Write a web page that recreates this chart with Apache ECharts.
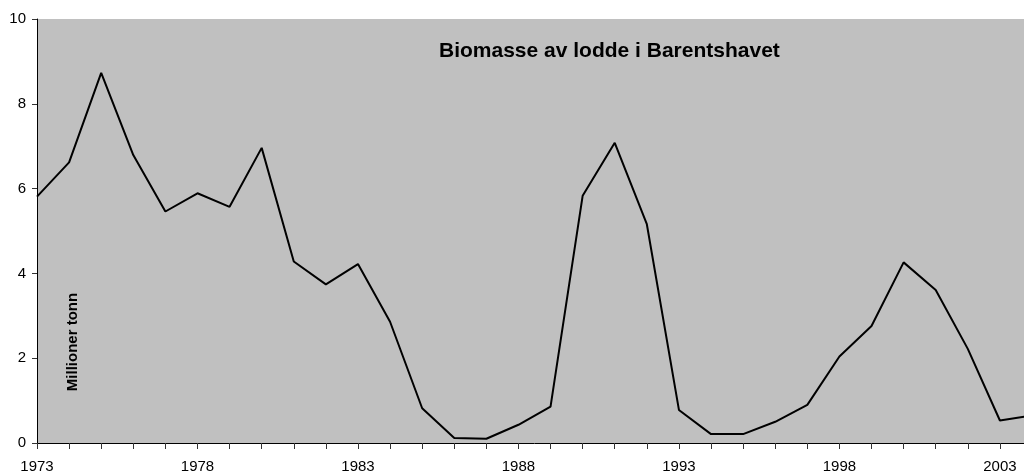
<!DOCTYPE html>
<html>
<head>
<meta charset="utf-8">
<script src="https://cdn.jsdelivr.net/npm/echarts@6/dist/echarts.min.js"></script>
<style>
  html, body { margin: 0; padding: 0; background: #fff; overflow: hidden; }
  #chart { width: 1032px; height: 475px; }
</style>
</head>
<body>
<div id="chart"></div>
<script>
// År (kategorier) og biomasse (millioner tonn)
const years = [];
for (let y = 1973; y <= 2004; y++) years.push(String(y));

const biomasse = [
  5.81, 6.62, 8.73, 6.79, 5.46, 5.89, 5.57, 6.96, 4.28, 3.74,
  4.22, 2.86, 0.82, 0.12, 0.10, 0.43, 0.86, 5.83, 7.08, 5.16,
  0.78, 0.21, 0.21, 0.50, 0.90, 2.04, 2.76, 4.26, 3.61, 2.22,
  0.53, 0.65
];

const yTicks = { min: 0, max: 10, interval: 2 };

const myChart = echarts.init(document.getElementById("chart"), null, { renderer: "canvas" });

const option = {
  animation: false,
  textStyle: { fontFamily: "Liberation Sans, Arial, sans-serif" },
  title: {
    text: "Biomasse av lodde i Barentshavet",
    left: 434,
    top: 36,
    textStyle: { fontSize: 21, fontWeight: "bold", color: "#000" },
  },
  grid: {
    left: 37,
    right: 0,
    top: 19,
    bottom: 32,
    show: true,
    backgroundColor: "#c0c0c0",
    borderWidth: 0,
  },
  xAxis: {
    type: "category",
    data: years,
    boundaryGap: false,
    axisLine: { lineStyle: { color: "#000", width: 1 } },
    axisTick: { show: true, length: 6, interval: 0, lineStyle: { color: "#333" } },
    axisLabel: {
      interval: 4,
      color: "#000",
      fontSize: 15,
      margin: 16,
    },
    splitLine: { show: false },
  },
  yAxis: {
    type: "value",
    min: yTicks.min,
    max: yTicks.max,
    interval: yTicks.interval,
    axisLine: { show: true, lineStyle: { color: "#000", width: 1 } },
    axisTick: { show: true, length: 5, lineStyle: { color: "#333" } },
    axisLabel: { color: "#000", fontSize: 15, margin: 11 },
    splitLine: { show: false },
  },
  graphic: [
    {
      type: "text",
      x: 73,
      y: 342,
      rotation: Math.PI / 2,
      style: {
        text: "Millioner tonn",
        fill: "#000",
        font: "bold 15px 'Liberation Sans', Arial, sans-serif",
        textAlign: "center",
        textVerticalAlign: "middle",
      },
    },
  ],
  series: [
    {
      name: "Biomasse",
      type: "line",
      data: biomasse,
      showSymbol: false,
      symbol: "none",
      lineStyle: { color: "#000", width: 2 },
    },
  ],
};

myChart.setOption(option);
</script>
</body>
</html>
